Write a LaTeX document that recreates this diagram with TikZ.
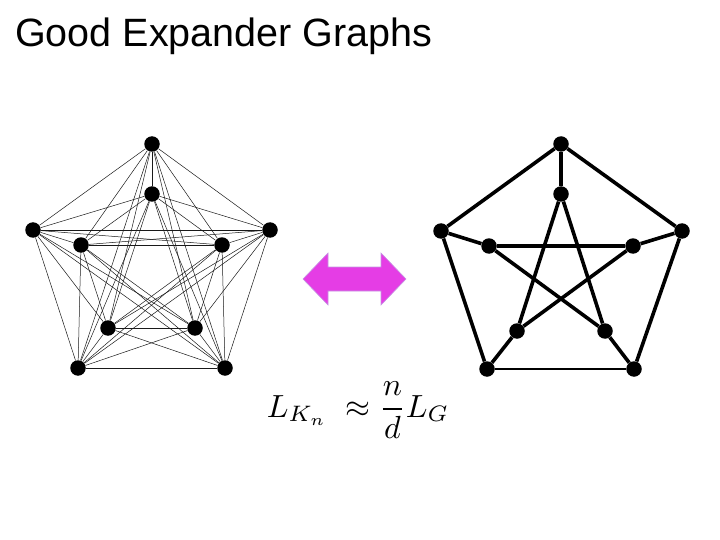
\documentclass[tikz,border=0pt]{standalone}
\usepackage{amsmath}
\usepackage{graphicx}
\usepackage{fontspec}
\usepackage{xcolor}
\usepackage{tikz}
\usetikzlibrary{positioning, calc}
\newfontfamily\titlefont{Liberation Sans}
\definecolor{arrowmagenta}{RGB}{229,61,229}
\definecolor{arrowrim}{RGB}{196,150,226}

\begin{document}
\begin{tikzpicture}[
    x=1pt, y=-1pt,
    dot/.style={circle, fill=black, inner sep=0pt, minimum size=15.5pt},
    thinedge/.style={line width=0.5pt, black!90},
    thickedge/.style={line width=3.6pt},
]
    \useasboundingbox (0,0) rectangle (720,540);

    % title
    \node[anchor=base west, inner sep=0pt, font=\titlefont\fontsize{39.5}{44}\selectfont] (title) at (15,47) {Good Expander Graphs};

    % complete graph K_n
    \node[dot] (ko1) at (152,144) {};
    \node[dot] (ko2) at (270,230) {};
    \node[dot] (ko3) at (225,368) {};
    \node[dot] (ko4) at (78,368) {};
    \node[dot] (ko5) at (33,230) {};
    \node[dot] (ki1) at (152,194) {};
    \node[dot] (ki2) at (222,245) {};
    \node[dot] (ki3) at (195,328) {};
    \node[dot] (ki4) at (108,328) {};
    \node[dot] (ki5) at (81,245) {};
    \foreach \a/\b in {ko1/ko2,ko1/ko3,ko1/ko4,ko1/ko5,ko1/ki1,ko1/ki2,ko1/ki3,ko1/ki4,ko1/ki5,
                       ko2/ko3,ko2/ko4,ko2/ko5,ko2/ki1,ko2/ki2,ko2/ki3,ko2/ki4,ko2/ki5,
                       ko3/ko4,ko3/ko5,ko3/ki1,ko3/ki2,ko3/ki3,ko3/ki4,ko3/ki5,
                       ko4/ko5,ko4/ki1,ko4/ki2,ko4/ki3,ko4/ki4,ko4/ki5,
                       ko5/ki1,ko5/ki2,ko5/ki3,ko5/ki4,ko5/ki5,
                       ki1/ki2,ki1/ki3,ki1/ki4,ki1/ki5,
                       ki2/ki3,ki2/ki4,ki2/ki5,
                       ki3/ki4,ki3/ki5,
                       ki4/ki5}
        \draw[thinedge] (\a) -- (\b);

    % double arrow
    \draw[arrowrim, fill=arrowmagenta, line width=0.6pt]
        (303,279) -- (328,253) -- (328,267) -- (381,267) -- (381,253) -- (406,279)
        -- (381,305) -- (381,291) -- (328,291) -- (328,305) -- cycle;

    % Petersen graph G
    \node[dot] (po1) at (561,144) {};
    \node[dot] (po2) at (682,231) {};
    \node[dot] (po3) at (634,369) {};
    \node[dot] (po4) at (487,369) {};
    \node[dot] (po5) at (441,231) {};
    \node[dot] (pi1) at (561,194) {};
    \node[dot] (pi2) at (633,246) {};
    \node[dot] (pi3) at (605,331) {};
    \node[dot] (pi4) at (517,331) {};
    \node[dot] (pi5) at (489,246) {};
    \foreach \a/\b in {po1/po2,po2/po3,po4/po5,po5/po1,
                       po1/pi1,po2/pi2,po3/pi3,po4/pi4,po5/pi5,
                       pi1/pi3,pi3/pi5,pi5/pi2,pi2/pi4,pi4/pi1}
        \draw[thickedge] (\a) -- (\b);
    \draw[line width=1.8pt] (po3) -- (po4);

    % formula
    \node[anchor=base, inner sep=0pt] (eq) at (358,417)
        {\scalebox{3.2}{$L_{K_n} \;\approx \dfrac{n}{d} L_G$}};
\end{tikzpicture}
\end{document}
